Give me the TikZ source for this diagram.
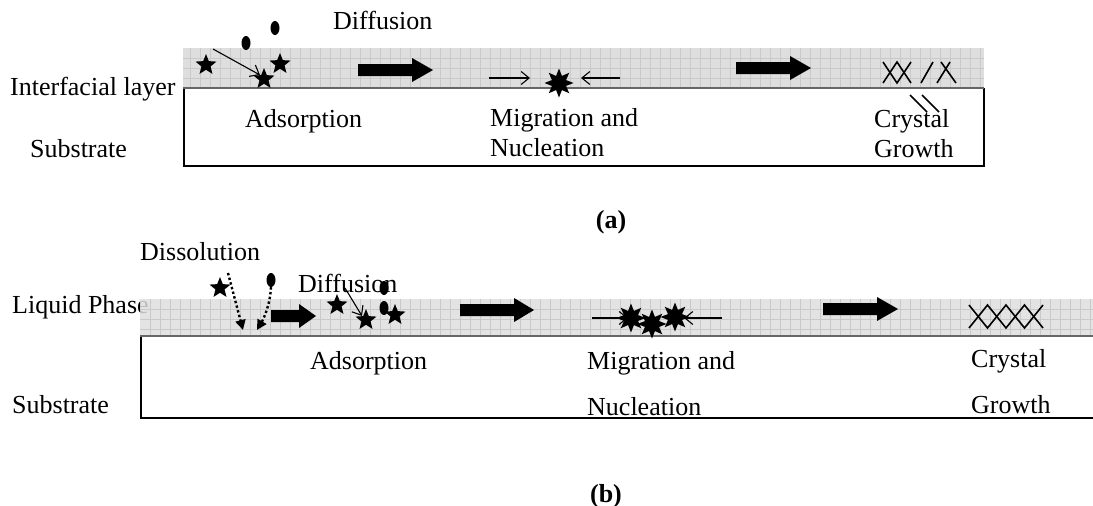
\documentclass[tikz,border=0pt]{standalone}
\usepackage{fontspec}
\setmainfont{Liberation Serif}
\usetikzlibrary{shapes.geometric,arrows.meta}
\newcommand\blkarrow[4]{% x start, x end, y centre, head length
  \fill (#1,#3-6) -- (#2-#4,#3-6) -- (#2-#4,#3-12) -- (#2,#3) -- (#2-#4,#3+12) -- (#2-#4,#3+6) -- (#1,#3+6) -- cycle;}
\begin{document}
\begin{tikzpicture}[x=1pt,y=-1pt,
  lbl/.style={anchor=base west,inner sep=0,font=\fontsize{26}{30}\selectfont},
  captl/.style={anchor=base,inner sep=0,font=\fontsize{26}{30}\selectfont\bfseries},
  band/.style={fill=black!13},
  gridln/.style={draw=black!21,line width=0.45pt},
  edgeln/.style={draw=black!60,line width=1.8pt},
  boxln/.style={line width=2.2pt},
  fstar/.style={star,star points=5,star point ratio=2.3,fill=black,inner sep=0,minimum size=22pt},
  burst/.style={star,star points=8,star point ratio=1.9,fill=black,inner sep=0,minimum size=29pt},
  dotp/.style={ellipse,fill=black,inner sep=0,minimum width=9pt,minimum height=14pt},
  thinarr/.style={line width=1.1pt,-{Straight Barb[length=8pt,width=13pt]}},
  dotarr/.style={line width=2.4pt,dash pattern=on 2.4pt off 2.4pt,-{Triangle[length=10pt,width=10pt]}},
  crys/.style={line width=1.6pt,line join=miter},
]
\useasboundingbox (0,0) rectangle (1093,506);

% ================= (a) =================
\fill[band] (183,48) rectangle (984,88);
\foreach \gx in {190,200,...,980} \draw[gridln] (\gx,48) -- (\gx,88);
\foreach \gy in {58,68,78} \draw[gridln] (183,\gy) -- (984,\gy);
\draw[boxln] (184,88) -- (184,166) -- (984,166) -- (984,88);
\draw[edgeln] (183,88) -- (984,88);

\node[lbl] (il) at (10,95) {Interfacial layer};
\node[lbl] (suba) at (30,157) {Substrate};
\node[lbl] (difa) at (333,30) {Diffusion};
\node[lbl] (adsa) at (245,127) {Adsorption};
\node[lbl] (miga) at (490,126) {Migration and};
\node[lbl] (nuca) at (490,156) {Nucleation};
\node[lbl] (cra) at (874,127) {Crystal};
\node[lbl] (gra) at (874,157) {Growth};
\node[captl] (capa) at (611,228) {(a)};

\node[dotp] (da1) at (246,43) {};
\node[dotp] (da2) at (275,28) {};
\node[fstar] (sa1) at (206,65) {};
\node[fstar] (sa2) at (280,64) {};
\node[fstar] (sa3) at (264,79) {};
\coordinate (adsstart) at (213,49);
\draw[thinarr] (adsstart) -- (sa3.north west);

\blkarrow{358}{433}{70}{21}
\node[burst] (nuc) at (559,83) {};
\coordinate (ml) at (489,78);
\coordinate (mr) at (620,78);
\draw[thinarr] (ml) -- (530,78);
\draw[thinarr] (mr) -- (581,78);
\blkarrow{736}{811}{68}{21}

\draw[crys] (883,62) -- (897,83) -- (911,62);
\draw[crys] (883,83) -- (897,62) -- (911,83);
\draw[crys] (921,83) -- (933,62);
\draw[crys] (937,83) -- (950,62);
\draw[crys] (941,62) -- (956,83);
\draw[crys] (910,95) -- (927,112);
\draw[crys] (922,95) -- (939,112);

% ================= (b) =================
\node[lbl] (lp) at (12,313) {Liquid Phase};
\fill[band,fill opacity=0.85] (140,299) rectangle (1093,336);
\foreach \gx in {150,160,...,1090} \draw[gridln] (\gx,299) -- (\gx,336);
\foreach \gy in {309,319,329} \draw[gridln] (140,\gy) -- (1093,\gy);
\draw[boxln] (141,336) -- (141,418) -- (1093,418);
\draw[edgeln] (140,336) -- (1093,336);

\node[lbl] (subb) at (12,413) {Substrate};
\node[lbl] (dis) at (140,260) {Dissolution};
\node[lbl] (difb) at (298,292) {Diffusion};
\node[lbl] (adsb) at (310,369) {Adsorption};
\node[lbl] (migb) at (587,369) {Migration and};
\node[lbl] (nucb) at (587,415) {Nucleation};
\node[lbl] (crb) at (971,367) {Crystal};
\node[lbl] (grb) at (971,413) {Growth};
\node[captl] (capb) at (606,502) {(b)};

\node[fstar] (sb0) at (220,288) {};
\node[dotp] (db0) at (271,280) {};
\coordinate (dis1s) at (228,273);
\coordinate (dis1e) at (243,330);
\coordinate (dis2e) at (257,330);
\draw[dotarr] (dis1s) -- (dis1e);
\draw[dotarr] (db0.south) .. controls (270,305) and (264,318) .. (dis2e);

\blkarrow{271}{316}{316}{17}

\node[fstar] (sb1) at (337,305) {};
\node[fstar] (sb2) at (366,320) {};
\node[fstar] (sb3) at (395,315) {};
\node[dotp] (db1) at (384,288) {};
\node[dotp] (db2) at (384,308) {};
\coordinate (difs) at (345,288);
\draw[thinarr] (difs) -- (sb2.north west);

\blkarrow{460}{534}{310}{20}

\coordinate (nl) at (592,318);
\coordinate (nr) at (722,318);
\draw[thinarr] (nl) -- (628,318);
\draw[thinarr] (nr) -- (684,318);
\node[burst] (nb1) at (631,318) {};
\node[burst] (nb2) at (652,324) {};
\node[burst] (nb3) at (675,317) {};

\blkarrow{823}{898}{309}{21}

\draw[crys] (969,305) -- (987.5,328) -- (1006,305) -- (1024.5,328) -- (1043,305);
\draw[crys] (969,328) -- (987.5,305) -- (1006,328) -- (1024.5,305) -- (1043,328);
\end{tikzpicture}
\end{document}
